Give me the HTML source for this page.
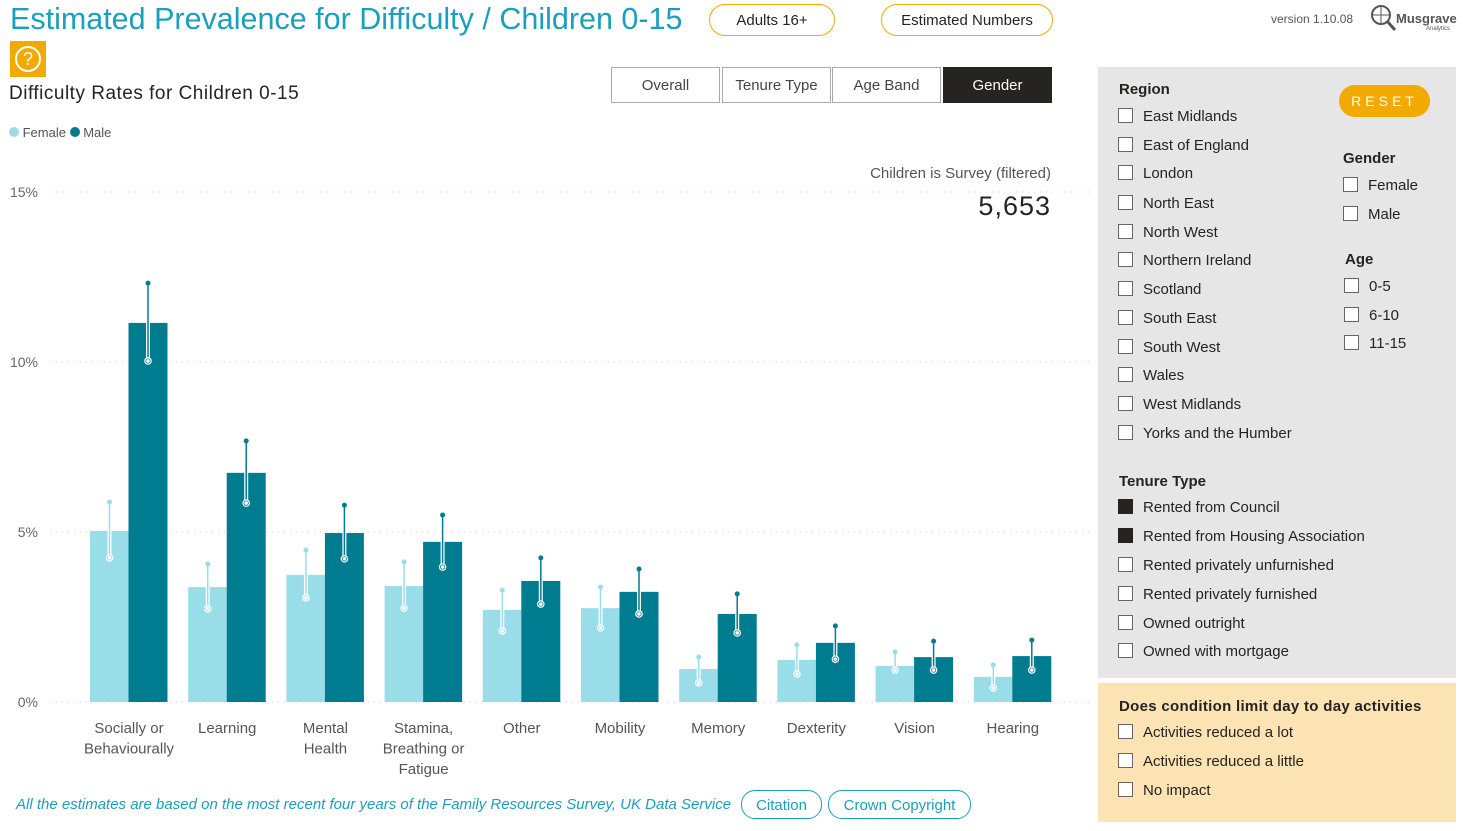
<!DOCTYPE html>
<html><head><meta charset="utf-8">
<style>
body{margin:0;width:1463px;height:831px;background:#fff;font-family:"Segoe UI","Liberation Sans","DejaVu Sans",sans-serif;position:relative;overflow:hidden;color:#252423}
.abs{position:absolute}
.pill{position:absolute;border:1.5px solid #f2a900;border-radius:16px;font-size:15px;text-align:center;line-height:32px;height:30px;background:#fff}
.tab{position:absolute;top:67px;height:34px;border:1px solid #aaa;font-size:15px;line-height:36px;text-align:center;color:#444;background:#fff}
.cb{position:absolute;font-size:15px;color:#252423;margin-top:2px}
.cb:before{content:"";position:absolute;left:-25px;top:0px;width:13px;height:13px;border:1px solid #666;background:#fff}
.cb.on:before{background:#252423;border-color:#252423}
.hd{position:absolute;font-size:15px;font-weight:bold;color:#252423;margin-top:2px}
.cite{position:absolute;top:790px;height:27px;border:1.5px solid #1a9fbc;border-radius:14px;color:#1a9fbc;font-size:15px;line-height:29px;text-align:center}
</style></head><body>
<div class="abs" style="left:10px;top:2px;font-size:30.5px;color:#1a9fbc">Estimated Prevalence for Difficulty / Children 0-15</div>
<div class="pill" style="left:709px;top:4px;width:124px">Adults 16+</div>
<div class="pill" style="left:881px;top:4px;width:170px">Estimated Numbers</div>
<div class="abs" style="left:1271px;top:12px;font-size:12px;color:#555">version 1.10.08</div>
<div class="abs" style="left:1368px;top:3px;width:90px;height:30px">
<svg width="30" height="30"><circle cx="13" cy="12" r="9" fill="none" stroke="#555" stroke-width="2"/><line x1="19" y1="18" x2="27" y2="27" stroke="#555" stroke-width="3"/><line x1="13" y1="3" x2="13" y2="21" stroke="#555"/><line x1="4" y1="12" x2="22" y2="12" stroke="#555"/></svg>
<span style="position:absolute;left:28px;top:8px;font-size:13px;font-weight:bold;color:#555">Musgrave</span><span style="position:absolute;left:58px;top:23px;font-size:6px;color:#555">Analytics</span></div>
<div class="abs" style="left:10px;top:41px;width:36px;height:36px;background:#f2a900"><div style="position:absolute;left:5px;top:5px;width:22px;height:22px;border:2px solid #fff;border-radius:50%;color:#fff;text-align:center;font-size:18px;line-height:22px">?</div></div>
<div class="abs" style="left:9px;top:83px;font-size:19px;letter-spacing:0.5px">Difficulty Rates for Children 0-15</div>
<div class="tab" style="left:611px;width:107px">Overall</div>
<div class="tab" style="left:722px;width:107px">Tenure Type</div>
<div class="tab" style="left:832px;width:107px">Age Band</div>
<div class="tab" style="left:943px;width:107px;background:#252423;color:#fff;border-color:#252423">Gender</div>
<div class="abs" style="left:9px;top:125px;font-size:13px;color:#555">
<span><span style="display:inline-block;width:10px;height:10px;border-radius:50%;background:#99dde8"></span> Female</span>
<span><span style="display:inline-block;width:10px;height:10px;border-radius:50%;background:#007c91"></span> Male</span></div>
<div class="abs" style="left:850px;top:165px;width:201px;text-align:right;font-size:15px;color:#555">Children is Survey (filtered)</div>
<div class="abs" style="left:900px;top:191px;width:151px;text-align:right;font-size:27px;letter-spacing:1px">5,653</div>
<svg class="abs" style="left:0;top:0" width="1095" height="790" id="chart"></svg>
<div class="abs" style="left:16px;top:796px;font-size:15px;font-style:italic;color:#1a9fbc">All the estimates are based on the most recent four years of the Family Resources Survey, UK Data Service</div>
<div class="cite" style="left:741px;width:79px">Citation</div>
<div class="cite" style="left:828px;width:141px">Crown Copyright</div>

<div class="abs" style="left:1098px;top:67px;width:358px;height:611px;background:#e6e6e6"></div>
<div class="abs" style="left:1098px;top:683px;width:358px;height:139px;background:#fbe3b4"></div>
<div class="abs" style="left:1339px;top:85px;width:91px;height:32px;border-radius:16px;background:#f2a900;color:#fff;font-size:14px;letter-spacing:4px;text-align:center;line-height:32px">RESET</div>
<div class="hd" style="left:1119px;top:79px">Region</div>
<div class="cb" style="left:1143px;top:106px">East Midlands</div>
<div class="cb" style="left:1143px;top:135px">East of England</div>
<div class="cb" style="left:1143px;top:163px">London</div>
<div class="cb" style="left:1143px;top:193px">North East</div>
<div class="cb" style="left:1143px;top:222px">North West</div>
<div class="cb" style="left:1143px;top:250px">Northern Ireland</div>
<div class="cb" style="left:1143px;top:279px">Scotland</div>
<div class="cb" style="left:1143px;top:308px">South East</div>
<div class="cb" style="left:1143px;top:337px">South West</div>
<div class="cb" style="left:1143px;top:365px">Wales</div>
<div class="cb" style="left:1143px;top:394px">West Midlands</div>
<div class="cb" style="left:1143px;top:423px">Yorks and the Humber</div>
<div class="hd" style="left:1343px;top:148px">Gender</div>
<div class="cb" style="left:1368px;top:175px">Female</div>
<div class="cb" style="left:1368px;top:204px">Male</div>
<div class="hd" style="left:1345px;top:249px">Age</div>
<div class="cb" style="left:1369px;top:276px">0-5</div>
<div class="cb" style="left:1369px;top:305px">6-10</div>
<div class="cb" style="left:1369px;top:333px">11-15</div>
<div class="hd" style="left:1119px;top:471px">Tenure Type</div>
<div class="cb on" style="left:1143px;top:497px">Rented from Council</div>
<div class="cb on" style="left:1143px;top:526px">Rented from Housing Association</div>
<div class="cb" style="left:1143px;top:555px">Rented privately unfurnished</div>
<div class="cb" style="left:1143px;top:584px">Rented privately furnished</div>
<div class="cb" style="left:1143px;top:613px">Owned outright</div>
<div class="cb" style="left:1143px;top:641px">Owned with mortgage</div>
<div class="hd" style="left:1119px;top:696px;letter-spacing:0.3px">Does condition limit day to day activities</div>
<div class="cb" style="left:1143px;top:722px">Activities reduced a lot</div>
<div class="cb" style="left:1143px;top:751px">Activities reduced a little</div>
<div class="cb" style="left:1143px;top:780px">No impact</div>

<script>
const categories=[["Socially or","Behaviourally"],["Learning"],["Mental","Health"],["Stamina,","Breathing or","Fatigue"],["Other"],["Mobility"],["Memory"],["Dexterity"],["Vision"],["Hearing"]];
const femaleVals=[5.03,3.38,3.74,3.41,2.71,2.76,0.97,1.24,1.06,0.74];
const femaleHi=[5.88,4.06,4.47,4.12,3.29,3.38,1.32,1.68,1.47,1.09];
const femaleLo=[4.24,2.74,3.06,2.76,2.09,2.18,0.56,0.82,0.94,0.41];
const maleVals=[11.15,6.74,4.97,4.71,3.56,3.24,2.59,1.74,1.32,1.35];
const maleHi=[12.32,7.68,5.79,5.5,4.24,3.91,3.18,2.24,1.79,1.82];
const maleLo=[10.03,5.85,4.21,3.97,2.88,2.59,2.03,1.26,0.94,0.94];
const yTicks=[0,5,10,15];
const yTickLabels=["0%","5%","10%","15%"];
const svg=document.getElementById('chart');
const NS="http://www.w3.org/2000/svg";
const y=v=>702-v*34;
const xc=i=>129+i*98.2;
function mk(t,a){const e=document.createElementNS(NS,t);for(const k in a)e.setAttribute(k,a[k]);svg.appendChild(e);return e;}
yTicks.forEach((t,i)=>{
 const g=mk('line',{x1:50,x2:1092,y1:y(t),y2:y(t),stroke:'#c8c8c8','stroke-dasharray':'1 5'});
 
 
 const l=mk('text',{x:38,y:y(t)+5,'text-anchor':'end','font-size':14,fill:'#666','font-family':'Liberation Sans, sans-serif'});
 l.textContent=yTickLabels[i];
 
 
});
function err(cx,hi,lo,col){
 mk('line',{x1:cx,x2:cx,y1:y(hi),y2:y(lo),stroke:'#fff','stroke-width':4});
 mk('line',{x1:cx,x2:cx,y1:y(hi),y2:y(lo),stroke:col,'stroke-width':1.5});
 mk('circle',{cx:cx,cy:y(hi),r:2.5,fill:col});
 mk('circle',{cx:cx,cy:y(lo),r:3.2,fill:col,stroke:'#fff','stroke-width':1.2});
 mk('circle',{cx:cx,cy:y(lo),r:1.8,fill:'#fff'});
}
categories.forEach((c,i)=>{
 const cx=xc(i);
 const f=mk('rect',{x:cx-39,y:y(femaleVals[i]),width:38.5,height:y(0)-y(femaleVals[i]),fill:'#99dde8'});
 
 
 const m=mk('rect',{x:cx-0.5,y:y(maleVals[i]),width:39,height:y(0)-y(maleVals[i]),fill:'#007c91'});
 
 
 err(cx-19.5,femaleHi[i],femaleLo[i],'#99dde8');
 err(cx+19,maleHi[i],maleLo[i],'#007c91');
 c.forEach((ln,j)=>{
  const t=mk('text',{x:cx,y:733+j*20.5,'text-anchor':'middle','font-size':15,fill:'#555','font-family':'Liberation Sans, sans-serif'});
  t.textContent=ln;
  
  
 });
});
</script>
</body></html>
